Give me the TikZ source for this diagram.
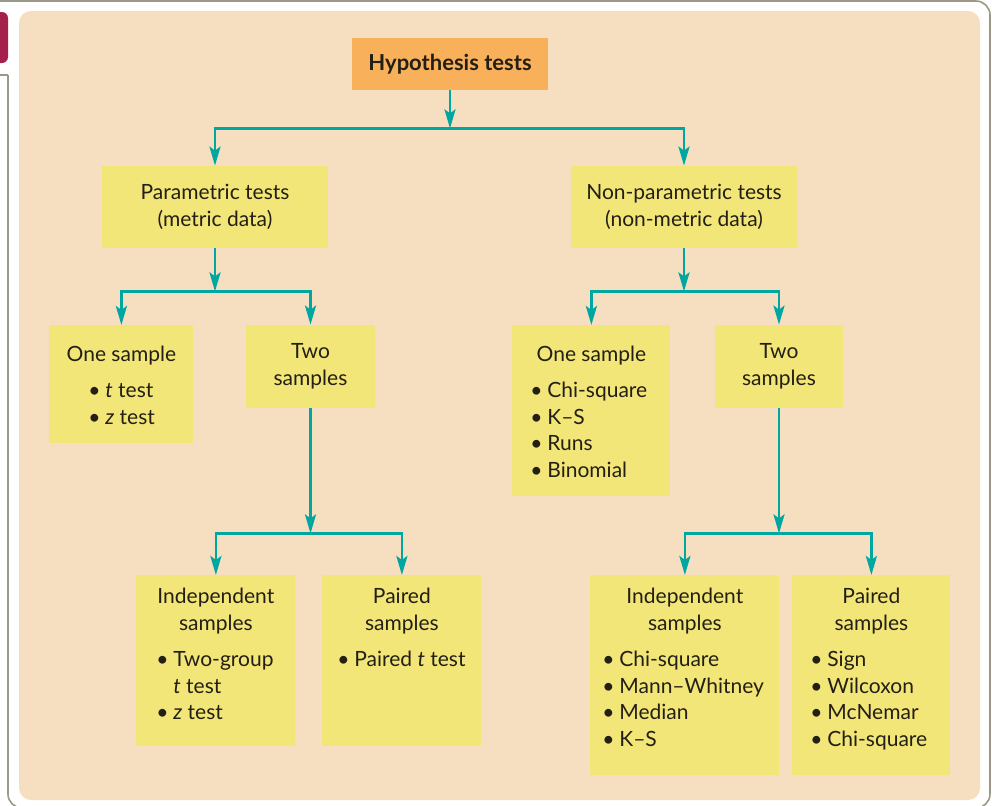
\documentclass[tikz,border=0pt]{standalone}
\usepackage{fontspec}
\setmainfont{Lato}
\usetikzlibrary{arrows.meta}
\definecolor{panel}{HTML}{F6DFC0}
\definecolor{ybox}{HTML}{F2E678}
\definecolor{obox}{HTML}{F9B05A}
\definecolor{teal}{HTML}{00A6A0}
\definecolor{ink}{HTML}{231F14}
\definecolor{framegray}{HTML}{9A9886}
\definecolor{tabred}{HTML}{A4214B}
\newcommand{\lsk}[1]{\raggedright\leftskip=#1\relax}
\newcommand{\itm}[1]{\par\hangindent=8.5pt\hangafter=1\noindent\makebox[8.5pt][l]{\textbullet}#1}

\begin{document}
\begin{tikzpicture}[x=0.5pt,y=-0.5pt,
  every node/.style={font=\fontsize{10.5}{13.3}\selectfont,text=ink},
  ybox/.style={fill=ybox,inner sep=0pt,anchor=north west},
  cbox/.style={fill=ybox,inner sep=0pt,align=center},
  arr/.style={draw=teal,line width=1.4pt,-{Stealth[length=9.5pt,width=5.5pt,inset=2pt]}},
  bar/.style={draw=teal,line width=1.4pt}]
\useasboundingbox (0,0) rectangle (992,805);
\clip (0,0) rectangle (992,805);
\draw[framegray,line width=0.8pt,rounded corners=7pt] (0,1) -| (990,808) -| (8,75);
\draw[framegray,line width=0.8pt] (8,75) -- (0,75);
\fill[tabred,rounded corners=3pt] (-10,12) rectangle (8,63);
\fill[panel,rounded corners=6pt] (19,11) rectangle (980,800);

\node[fill=obox,inner sep=0pt,minimum width=98pt,minimum height=26pt,font=\fontsize{11}{13.3}\selectfont\bfseries](hyp) at (450,64){Hypothesis tests};
\node[cbox,minimum width=113pt,minimum height=41pt](par) at (215,207){Parametric tests\\(metric data)};
\node[cbox,minimum width=113pt,minimum height=41pt](npar) at (684,207){Non-parametric tests\\(non-metric data)};
\node[ybox](one1) at (49,325){\parbox[c][59pt][t]{72pt}{\centering\rule{0pt}{18pt}One sample\par\vspace{4.7pt}\lsk{19.5pt}\itm{\textit{t} test}\itm{\textit{z} test}}};
\node[cbox,minimum width=64.5pt,minimum height=41.5pt](two1) at (310.5,366.5){Two\\samples};
\node[ybox](one2) at (512,325){\parbox[c][85.5pt][t]{79pt}{\centering\rule{0pt}{18pt}One sample\par\vspace{4.7pt}\lsk{9pt}\itm{Chi-square}\itm{K--S}\itm{Runs}\itm{Binomial}}};
\node[cbox,minimum width=64pt,minimum height=41.5pt](two2) at (779,366.5){Two\\samples};
\node[ybox](ind1) at (136,575){\parbox[c][85.5pt][t]{79.5pt}{\centering\rule{0pt}{14pt}Independent\\samples\par\vspace{5pt}\lsk{10pt}\itm{Two-group\newline\textit{t} test}\itm{\textit{z} test}}};
\node[ybox](pai1) at (322,575){\parbox[c][85.5pt][t]{79.5pt}{\centering\rule{0pt}{14pt}Paired\\samples\par\vspace{5pt}\lsk{7.5pt}\itm{Paired \textit{t} test}}};
\node[ybox](ind2) at (590,575){\parbox[c][100pt][t]{94.5pt}{\centering\rule{0pt}{14pt}Independent\\samples\par\vspace{5pt}\lsk{6pt}\itm{Chi-square}\itm{Mann--Whitney}\itm{Median}\itm{K--S}}};
\node[ybox](pai2) at (792,575){\parbox[c][100pt][t]{79pt}{\centering\rule{0pt}{14pt}Paired\\samples\par\vspace{5pt}\lsk{9pt}\itm{Sign}\itm{Wilcoxon}\itm{McNemar}\itm{Chi-square}}};

\path (hyp.south) ++(0,38) coordinate (b1);
\path (par.south) ++(0,43) coordinate (b2);
\path (npar.south) ++(0,43) coordinate (b3);
\path (two1.south) ++(0,125) coordinate (b4);
\path (two2.south) ++(0,125) coordinate (b5);
\draw[arr](hyp) -- (b1);
\draw[arr](b1) -| (par);
\draw[arr](b1) -| (npar);
\draw[arr](par) -- (b2);
\draw[arr](b2) -| (one1);
\draw[arr](b2) -| (two1);
\draw[arr](npar) -- (b3);
\draw[arr](b3) -| (one2);
\draw[arr](b3) -| (two2);
\draw[arr](two1) -- (b4);
\draw[arr](b4) -| (ind1);
\draw[arr](b4) -| (pai1);
\draw[arr](two2) -- (b5);
\draw[arr](b5) -| (ind2);
\draw[arr](b5) -| (pai2);
\end{tikzpicture}
\end{document}
